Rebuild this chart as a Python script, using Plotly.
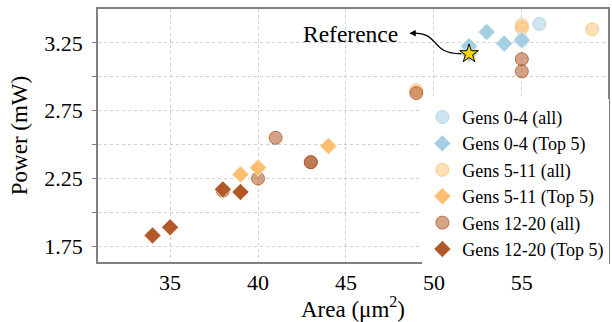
import plotly.graph_objects as go

# ---------------- data ----------------
g04_all_x = [56, 52, 55]
g04_all_y = [3.39, 3.22, 3.27]
g04_top_x = [52, 53, 54, 55, 52]
g04_top_y = [3.226, 3.33, 3.245, 3.27, 3.17]

g511_all_x = [55, 55, 59, 49]
g511_all_y = [3.38, 3.36, 3.35, 2.90]
g511_top_x = [44, 40, 39]
g511_top_y = [2.49, 2.33, 2.28]

g1220_all_x = [41, 40, 43, 43, 49, 55, 55, 38]
g1220_all_y = [2.55, 2.25, 2.37, 2.37, 2.88, 3.13, 3.04, 2.16]
g1220_top_x = [34, 35, 38, 39]
g1220_top_y = [1.83, 1.89, 2.17, 2.15]

ref_x = [52]
ref_y = [3.17]
ref_label = "Reference"
ref_text_pos = (45.25, 3.318)

x_ticks = [35, 40, 45, 50, 55]
y_ticks = [1.75, 2.0, 2.25, 2.5, 2.75, 3.0, 3.25]
y_ticklabels = ["1.75", "", "2.25", "", "2.75", "", "3.25"]

BLUE = (166, 206, 227)
ORANGE = (253, 191, 111)
BROWN = (177, 89, 40)

FONT = "Liberation Serif, Times New Roman, serif"


def rgba(c, a):
    return f"rgba({c[0]},{c[1]},{c[2]},{a})"


fig = go.Figure()

circles = [
    ("Gens 0-4 (all)", g04_all_x, g04_all_y, BLUE, 1, 0.55),
    ("Gens 5-11 (all)", g511_all_x, g511_all_y, ORANGE, 3, 0.5),
    ("Gens 12-20 (all)", g1220_all_x, g1220_all_y, BROWN, 5, 0.55),
]
diamonds = [
    ("Gens 0-4 (Top 5)", g04_top_x, g04_top_y, BLUE, 2),
    ("Gens 5-11 (Top 5)", g511_top_x, g511_top_y, ORANGE, 4),
    ("Gens 12-20 (Top 5)", g1220_top_x, g1220_top_y, BROWN, 6),
]

for name, xs, ys, col, rank, a in circles:
    fig.add_trace(go.Scatter(
        x=xs, y=ys, mode="markers", name=name, legendrank=rank,
        marker=dict(symbol="circle", size=13, color=rgba(col, a),
                    line=dict(color=rgba(col, 0.8), width=1)),
    ))

for name, xs, ys, col, rank in diamonds:
    fig.add_trace(go.Scatter(
        x=xs, y=ys, mode="markers", name=name, legendrank=rank,
        marker=dict(symbol="diamond", size=13, color=rgba(col, 1),
                    line=dict(color="white", width=0.5)),
    ))

fig.add_trace(go.Scatter(
    x=ref_x, y=ref_y, mode="markers", showlegend=False,
    marker=dict(symbol="star", size=14, color="#FFD700",
                line=dict(color="black", width=1)),
))

# curved arrow from star to label
sx, sy = ref_x[0] - 0.45, ref_y[0]
ex, ey = 48.6, ref_text_pos[1] + 0.004
path = (f"M {sx},{sy} C {sx - 1.8},{sy} {ex + 1.8},{ey} {ex + 0.25},{ey}")
fig.add_shape(type="path", path=path, xref="x", yref="y",
              line=dict(color="black", width=1.3))
fig.add_annotation(x=ex, y=ey, ax=ex + 0.4, ay=ey, xref="x", yref="y",
                   axref="x", ayref="y", text="", showarrow=True,
                   arrowhead=2, arrowsize=1, arrowwidth=1.3, arrowcolor="black")
fig.add_annotation(x=ref_text_pos[0], y=ref_text_pos[1], xref="x", yref="y",
                   text=ref_label, showarrow=False,
                   font=dict(family=FONT, size=23.5, color="black"))

axis_common = dict(
    showgrid=True, gridcolor="#cfcfcf", griddash="dot", gridwidth=1,
    showline=True, linecolor="#808080", linewidth=1.5, mirror=True,
    tickcolor="#808080", tickwidth=1.2,
    zeroline=False, automargin=False,
    tickfont=dict(family=FONT, size=22, color="black"),
)

fig.update_xaxes(range=[30.9, 59.9], tickvals=x_ticks, ticks="",
                 title=dict(text="Area (μm<sup>2</sup>)",
                            font=dict(family=FONT, size=23, color="black"),
                            standoff=3),
                 **axis_common)
fig.update_yaxes(range=[1.634, 3.5], tickvals=y_ticks, ticktext=y_ticklabels,
                 ticks="outside", ticklen=4, ticklabelstandoff=5,
                 title=dict(text="Power (mW)",
                            font=dict(family=FONT, size=23, color="black"),
                            standoff=10),
                 **axis_common)

fig.update_layout(
    width=612, height=322,
    margin=dict(l=98, r=4, t=9, b=60, autoexpand=False),
    paper_bgcolor="white", plot_bgcolor="white",
    showlegend=True,
    legend=dict(x=0.636, y=0.645, xanchor="left", yanchor="top",
                bgcolor="white", borderwidth=0,
                font=dict(family=FONT, size=18, color="black"),
                itemsizing="trace"),
)

fig.write_html("out.html", config={"displayModeBar": False},
               post_script="document.body.style.margin='0';document.body.style.overflow='hidden';")
